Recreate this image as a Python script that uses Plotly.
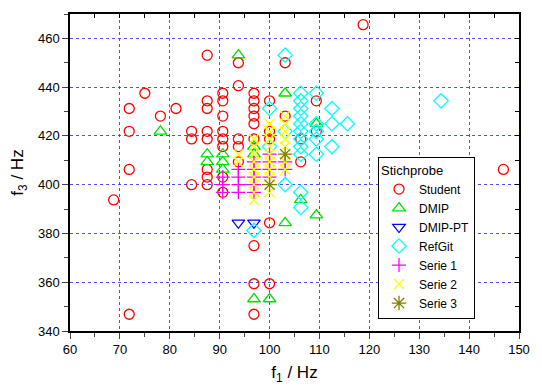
import plotly.graph_objects as go

# ---- data (f1, f3 in Hz) ----
student_f1 = [68.75, 71.875, 71.875, 71.875, 71.875, 75, 78.125, 81.25,
              84.375, 84.375, 84.375,
              87.5, 87.5, 87.5, 87.5, 87.5, 87.5, 87.5, 87.5,
              90.625, 90.625, 90.625, 90.625, 90.625, 90.625, 90.625, 90.625,
              93.75, 93.75, 93.75, 93.75, 93.75,
              96.875, 96.875, 96.875, 96.875, 96.875, 96.875, 96.875, 96.875, 96.875,
              100, 100, 100, 100, 100,
              103.125, 103.125, 106.25, 106.25, 109.375, 109.375, 118.75, 146.875]
student_f3 = [393.75, 346.875, 406.25, 421.875, 431.25, 437.5, 428.125, 431.25,
              400, 418.75, 421.875,
              400, 403.125, 406.25, 418.75, 421.875, 431.25, 434.375, 453.125,
              396.875, 403.125, 415.625, 418.75, 421.875, 428.125, 434.375, 437.5,
              409.375, 415.625, 418.75, 440.625, 450,
              346.875, 359.375, 375, 418.75, 425, 428.125, 431.25, 434.375, 437.5,
              359.375, 384.375, 418.75, 421.875, 434.375,
              428.125, 450, 409.375, 418.75, 421.875, 434.375, 465.625, 406.25]

dmip_f1 = [78.125, 87.5, 87.5, 90.625, 90.625, 90.625, 93.75, 96.875, 96.875, 96.875,
           100, 103.125, 103.125, 106.25, 109.375, 109.375]
dmip_f3 = [421.875, 409.375, 412.5, 406.25, 409.375, 412.5, 453.125, 353.125, 412.5, 415.625,
           353.125, 384.375, 437.5, 393.75, 387.5, 425]

dmippt_f1 = [93.75, 96.875]
dmippt_f3 = [384.375, 384.375]

refgit_f1 = [96.875, 100, 100, 103.125, 103.125, 103.125,
             106.25, 106.25, 106.25, 106.25, 106.25, 106.25, 106.25, 106.25, 106.25, 106.25, 106.25,
             109.375, 109.375, 109.375, 109.375, 109.375,
             112.5, 112.5, 112.5, 115.625, 134.375]
refgit_f3 = [381.25, 415.625, 431.25, 400, 421.875, 453.125,
             390.625, 396.875, 412.5, 415.625, 418.75, 421.875, 425, 428.125, 431.25, 434.375, 437.5,
             412.5, 418.75, 421.875, 425, 437.5,
             415.625, 425, 431.25, 425, 434.375]

serie1_f1 = [90.625, 90.625, 90.625, 93.75, 93.75, 93.75, 93.75,
             96.875, 96.875, 96.875, 96.875, 96.875, 100, 100, 100, 100, 103.125, 103.125]
serie1_f3 = [396.875, 400, 403.125, 396.875, 400, 403.125, 406.25,
             396.875, 400, 403.125, 406.25, 409.375, 403.125, 406.25, 409.375, 412.5, 406.25, 409.375]

serie2_f1 = [93.75, 93.75,
             96.875, 96.875, 96.875, 96.875, 96.875, 96.875, 96.875, 96.875, 96.875,
             100, 100, 100, 100, 100, 100, 100, 100, 100,
             103.125, 103.125, 103.125, 103.125, 103.125, 103.125, 103.125, 103.125]
serie2_f3 = [409.375, 412.5,
             393.75, 396.875, 400, 403.125, 406.25, 409.375, 412.5, 415.625, 418.75,
             396.875, 403.125, 406.25, 409.375, 412.5, 415.625, 418.75, 421.875, 425,
             406.25, 409.375, 412.5, 415.625, 418.75, 421.875, 425, 428.125]

serie3_f1 = [100, 103.125]
serie3_f3 = [400, 412.5]

series = [
    ("Student", student_f1, student_f3, "circle-open", "#FF0000", 10),
    ("DMIP", dmip_f1, dmip_f3, "triangle-up-open", "#00E000", 11),
    ("DMIP-PT", dmippt_f1, dmippt_f3, "triangle-down-open", "#0000FF", 11),
    ("RefGit", refgit_f1, refgit_f3, "diamond-open", "#00FFFF", 11),
    ("Serie 1", serie1_f1, serie1_f3, "cross-thin-open", "#FF00FF", 10),
    ("Serie 2", serie2_f1, serie2_f3, "x-thin-open", "#FFFF00", 10),
    ("Serie 3", serie3_f1, serie3_f3, "asterisk-open", "#808000", 12),
]

fig = go.Figure()
for name, xs, ys, sym, col, sz in series:
    fig.add_trace(go.Scatter(
        x=xs, y=ys, mode="markers", name=name,
        marker=dict(symbol=sym, size=sz, color=col, line=dict(color=col, width=1.3)),
    ))

# dummy trace for the mirrored (inside-tick) top/right axes
fig.add_trace(go.Scatter(x=[None], y=[None], xaxis="x2", yaxis="y2",
                         showlegend=False, hoverinfo="skip"))

font = "Liberation Sans, Arial, sans-serif"
grid = dict(showgrid=True, gridcolor="rgba(70,70,255,0.95)", griddash="dot", gridwidth=1.2)

fig.update_layout(
    width=542, height=391,
    margin=dict(l=70, r=14, t=12, b=54),
    paper_bgcolor="white", plot_bgcolor="white",
    font=dict(family=font, size=13, color="black"),
    xaxis=dict(range=[60, 150], dtick=10, tick0=60, ticks="outside", ticklen=6, tickwidth=1.3,
               showline=True, linecolor="black", linewidth=1.5, mirror=True, zeroline=False,
               minor=dict(dtick=5, ticks="outside", ticklen=4, tickwidth=1.3, showgrid=False),
               title=dict(text="f<sub>1</sub> / Hz", font=dict(size=17), standoff=10),
               tickfont=dict(size=13), **grid),
    yaxis=dict(range=[340, 470], dtick=20, tick0=340, ticks="outside", ticklen=6, tickwidth=1.3,
               showline=True, linecolor="black", linewidth=1.5, mirror=True, zeroline=False,
               minor=dict(dtick=10, ticks="outside", ticklen=4, tickwidth=1.3, showgrid=False),
               title=dict(text="f<sub>3</sub> / Hz", font=dict(size=17), standoff=10),
               tickfont=dict(size=13), **grid),
    xaxis2=dict(range=[60, 150], overlaying="x", side="top", anchor="y2", dtick=10, tick0=60,
                ticks="inside", ticklen=4, tickwidth=1.3, tickcolor="black", showticklabels=False,
                showgrid=False, zeroline=False, showline=False,
                minor=dict(dtick=5, ticks="inside", ticklen=4, tickwidth=1.3, tickcolor="black")),
    yaxis2=dict(range=[340, 470], overlaying="y", side="right", anchor="x2", dtick=20, tick0=340,
                ticks="inside", ticklen=4, tickwidth=1.3, tickcolor="black", showticklabels=False,
                showgrid=False, zeroline=False, showline=False,
                minor=dict(dtick=10, ticks="inside", ticklen=4, tickwidth=1.3, tickcolor="black")),
    legend=dict(x=0.686, y=0.55, xanchor="left", yanchor="top",
                bgcolor="white", bordercolor="black", borderwidth=1,
                title=dict(text="Stichprobe", font=dict(size=13)),
                font=dict(size=12), itemwidth=30, tracegroupgap=0),
    showlegend=True,
)

fig.write_html("out.html")
